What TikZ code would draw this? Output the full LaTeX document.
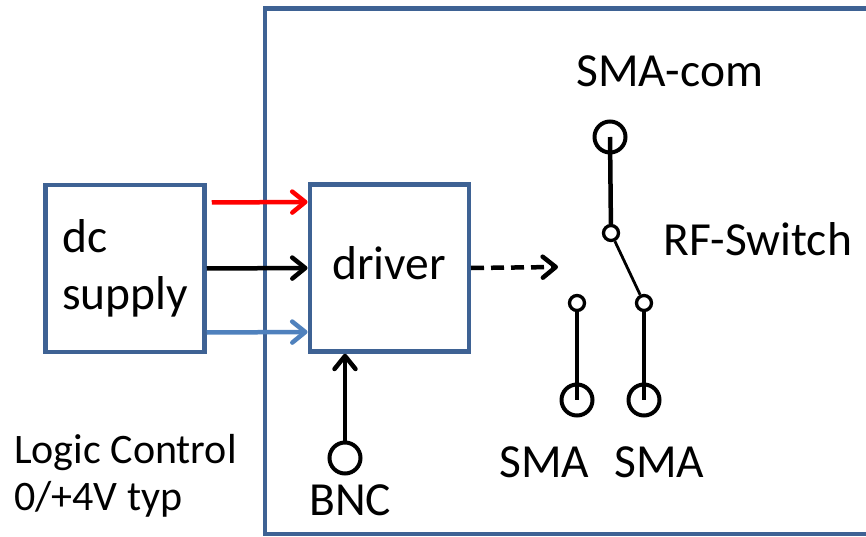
\documentclass[tikz,border=0pt]{standalone}
\usepackage{fontspec}
\setmainfont{Carlito}
\usetikzlibrary{arrows.meta}
\definecolor{boxblue}{RGB}{62,98,148}
\definecolor{lineblue}{RGB}{79,129,189}
\begin{document}
\begin{tikzpicture}[x=1pt,y=-1pt,
  blk/.style={draw=boxblue, line width=4.5pt, inner sep=0pt, minimum width=159pt, minimum height=167pt},
  bigfont/.style={font=\fontsize{47.5}{57}\selectfont},
  midfont/.style={font=\fontsize{42}{47}\selectfont},
  conn/.style={circle, draw, line width=4pt, minimum size=31pt, inner sep=0pt},
  pin/.style={circle, draw, fill=white, line width=3.3pt, minimum size=15pt, inner sep=0pt},
  wire/.style={line width=4.5pt},
  arr/.style={line width=4.5pt, -{Straight Barb[round,length=13pt,width=21pt]}},
  lbl/.style={anchor=base west, inner sep=0pt, bigfont}
]
\useasboundingbox (0,0) rectangle (866,537);
\clip (0,0) rectangle (866,537);
% enclosure
\node[draw=boxblue, line width=4.5pt, minimum width=655pt, minimum height=525.5pt, inner sep=0pt] (encl) at (592.5,271.25) {};
% blocks
\node[blk, align=left, bigfont] (dc) at (125,268.5) {dc\\supply};
\node[blk, bigfont, text depth=9pt] (drv) at (389.25,268) {driver};
% supply arrows
\draw[arr, red] ([xshift=5pt,yshift=66pt]dc.east) -- ([yshift=66pt]drv.west);
\draw[arr, black] (dc.east) -- (drv.west);
\draw[arr, lineblue] ([yshift=-64pt]dc.east) -- ([yshift=-64pt]drv.west);
% dashed control arrow
\coordinate (dashend) at (558,267);
\draw[arr, dash pattern=on 13pt off 7pt] (drv.east) -- (dashend);
% BNC
\node[conn] (bnc) at (345,458) {};
\draw[arr] (bnc.north) -- (drv.south -| bnc);
\node[lbl] (bnclbl) at (309,515) {BNC};
% switch
\node[conn] (com) at (610,137) {};
\node[pin] (p1) at (611,233) {};
\node[pin] (p2) at (644,303) {};
\node[pin] (p3) at (577,303) {};
\node[conn] (sma1) at (577,400) {};
\node[conn] (sma2) at (644,400) {};
\draw[wire] (com.center) -- (p1);
\draw[line width=2.8pt] (p1) -- (p2);
\draw[wire] (p2) -- (sma2.center);
\draw[wire] (p3) -- (sma1.center);
% labels
\node[lbl] (comlbl) at (576,87) {SMA-com};
\node[lbl] (swlbl) at (663,255) {RF-Switch};
\node[lbl] (sma1lbl) at (499,477) {SMA};
\node[lbl] (sma2lbl) at (614,477) {SMA};
\node[anchor=base west, inner sep=0pt, midfont] (logic) at (14,463) {Logic Control};
\node[anchor=base west, inner sep=0pt, midfont] (volt) at (14,510) {0/+4V typ};
\end{tikzpicture}
\end{document}
